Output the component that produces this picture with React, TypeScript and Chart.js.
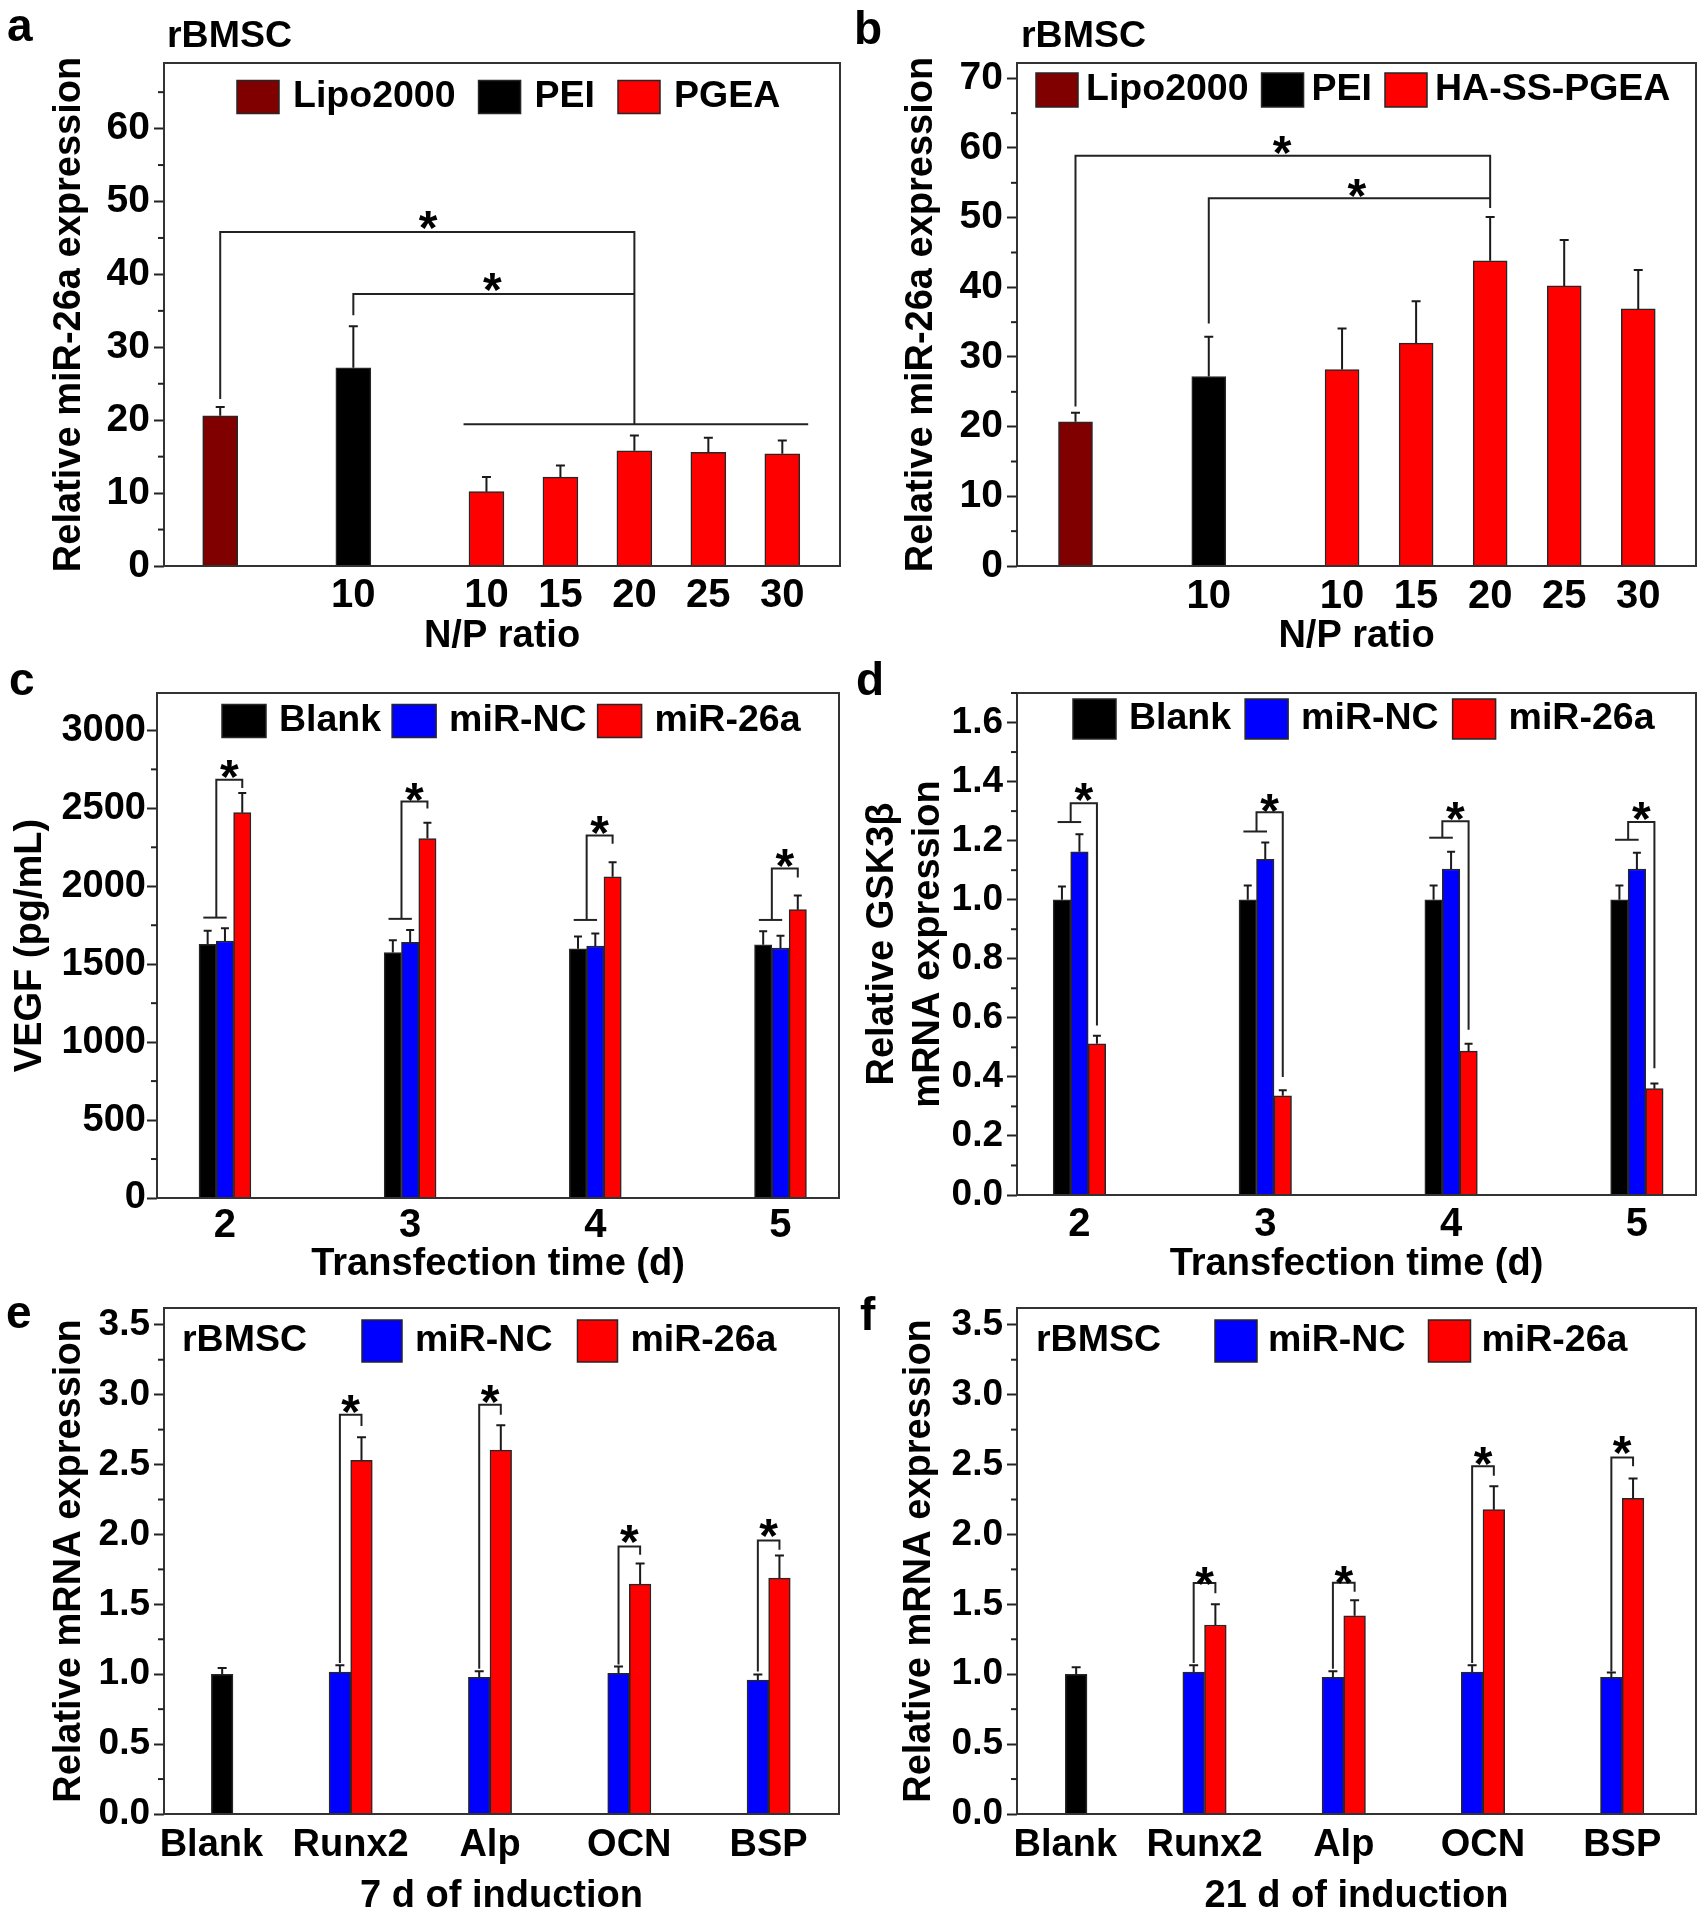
import React, { useEffect, useRef } from 'react';
import { Chart, registerables } from 'chart.js';

Chart.register(...registerables);

const FONT_FAMILY = '"Liberation Sans", Arial, Helvetica, sans-serif';
const FS_XTICK_NUM = 40;
const FS_XTICK_WORD = 38;
const FS_TITLE = 38;
const FS_LEGEND = 37.5;
const FS_STAR = 48;
const MAROON = '#800000';
const RED = '#FF0000';
const BLUE = '#0000FF';
const BLACK = '#000000';

// ---------------- data: panel a (PGEA) ----------------
const npGroupPos = [0, 1.8, 3.6, 4.6, 5.6, 6.6, 7.6];
const npTickLabels = ['10', '10', '15', '20', '25', '30'];
const yTicksA = [0, 10, 20, 30, 40, 50, 60];
const a_lipo = [20.6];
const a_lipoErr = [1.2];
const a_pei = [27.2];
const a_peiErr = [5.7];
const a_pgea = [10.2, 12.2, 15.8, 15.6, 15.4];
const a_pgeaErr = [2.0, 1.6, 2.1, 2.0, 1.8];
const a_brackets = [
  { from: 0, to: 4, yFrom: 22.9, yTop: 45.8, yTo: 19.45 },
  { from: 1, to: 4, yFrom: 34.4, yTop: 37.3, yTo: 37.3 },
];
const a_baseLine = { x1: 3.29, x2: 7.95, y: 19.45 };
const a_stars = [[2.81, 48.0], [3.68, 39.5]];

// ---------------- data: panel b (HA-SS-PGEA) ----------------
const yTicksB = [0, 10, 20, 30, 40, 50, 60, 70];
const b_lipo = [20.7];
const b_lipoErr = [1.3];
const b_pei = [27.2];
const b_peiErr = [5.7];
const b_pgea = [28.2, 32.0, 43.8, 40.2, 36.9];
const b_pgeaErr = [5.9, 6.0, 6.3, 6.6, 5.6];
const b_brackets = [
  { from: 0, to: 4, yFrom: 22.9, yTop: 58.9, yTo: 51.4 },
  { from: 1, to: 4, yFrom: 34.8, yTop: 52.8, yTo: 52.8 },
];
const b_stars = [[2.79, 61.0], [3.8, 54.8]];

// ---------------- data: panel c (VEGF) ----------------
const days = [2, 3, 4, 5];
const yTicksC = [0, 500, 1000, 1500, 2000, 2500, 3000];
const c_blank = [1628, 1575, 1599, 1625];
const c_blankErr = [87, 79, 79, 87];
const c_nc = [1649, 1641, 1617, 1604];
const c_ncErr = [82, 79, 80, 79];
const c_26a = [2472, 2306, 2061, 1850];
const c_26aErr = [127, 101, 93, 90];
// [low line, bracket top, right leg bottom, star]
const c_sig = [
  [1799, 2683, 2631, 2776],
  [1791, 2544, 2499, 2630],
  [1784, 2326, 2273, 2418],
  [1784, 2114, 2056, 2207],
];

// ---------------- data: panel d (GSK3b) ----------------
const yTicksD = [0, 0.2, 0.4, 0.6, 0.8, 1.0, 1.2, 1.4, 1.6];
const d_blank = [1.0, 1.0, 1.0, 1.0];
const d_blankErr = [0.045, 0.048, 0.048, 0.048];
const d_nc = [1.162, 1.137, 1.104, 1.104];
const d_ncErr = [0.06, 0.057, 0.058, 0.055];
const d_26a = [0.512, 0.336, 0.487, 0.36];
const d_26aErr = [0.027, 0.019, 0.025, 0.018];
const d_sig = [
  [1.263, 1.327, 0.574, 1.378],
  [1.231, 1.296, 0.40, 1.342],
  [1.21, 1.266, 0.56, 1.314],
  [1.203, 1.263, 0.429, 1.314],
];

// ---------------- data: panels e / f (osteogenic genes) ----------------
const genes = ['Blank', 'Runx2', 'Alp', 'OCN', 'BSP'];
const yTicksEF = [0, 0.5, 1.0, 1.5, 2.0, 2.5, 3.0, 3.5];
const e_blank = [1.0];
const e_blankErr = [0.044];
const e_nc = [1.015, 0.978, 1.007, 0.958];
const e_ncErr = [0.05, 0.043, 0.049, 0.04];
const e_26a = [2.531, 2.603, 1.645, 1.688];
const e_26aErr = [0.164, 0.178, 0.147, 0.161];
// [left leg bottom, bracket top, right leg bottom, star]
const e_sig = [
  [1.08, 2.856, 2.775, 2.96],
  [1.04, 2.928, 2.856, 3.03],
  [1.07, 1.913, 1.855, 2.03],
  [1.02, 1.956, 1.89, 2.07],
];

const f_blank = [1.0];
const f_blankErr = [0.05];
const f_nc = [1.015, 0.978, 1.015, 0.978];
const f_ncErr = [0.049, 0.043, 0.049, 0.034];
const f_26a = [1.352, 1.418, 2.177, 2.258];
const f_26aErr = [0.148, 0.112, 0.167, 0.142];
const f_sig = [
  [1.08, 1.652, 1.58, 1.73],
  [1.04, 1.654, 1.59, 1.735],
  [1.08, 2.488, 2.42, 2.59],
  [1.02, 2.551, 2.488, 2.666],
];

// ---------------- layout ----------------
type Lay = {
  canvas: { l: number; t: number; w: number; h: number };
  area: { l: number; t: number; r: number; b: number };
  yTitleX: number;
  xTickY: number;
  xTitleY: number;
};

const LAY_A: Lay = { canvas: { l: 0, t: 0, w: 850, h: 670 }, area: { l: 164, t: 63, r: 840, b: 566 }, yTitleX: 70, xTickY: 588, xTitleY: 637 };
const LAY_B: Lay = { canvas: { l: 850, t: 0, w: 857, h: 670 }, area: { l: 1017, t: 63, r: 1696, b: 566 }, yTitleX: 922, xTickY: 589, xTitleY: 637 };
const LAY_C: Lay = { canvas: { l: 0, t: 640, w: 850, h: 650 }, area: { l: 157, t: 693, r: 839, b: 1198 }, yTitleX: 31, xTickY: 1218, xTitleY: 1265 };
const LAY_D: Lay = { canvas: { l: 850, t: 640, w: 857, h: 650 }, area: { l: 1017, t: 693, r: 1696, b: 1195 }, yTitleX: 883, xTickY: 1217, xTitleY: 1265 };
const LAY_E: Lay = { canvas: { l: 0, t: 1260, w: 850, h: 660 }, area: { l: 164, t: 1308, r: 839, b: 1814 }, yTitleX: 70, xTickY: 1838, xTitleY: 1897 };
const LAY_F: Lay = { canvas: { l: 850, t: 1260, w: 857, h: 660 }, area: { l: 1017, t: 1308, r: 1696, b: 1814 }, yTitleX: 920, xTickY: 1838, xTitleY: 1897 };

const fnt = (size: number) => ({ family: FONT_FAMILY, size, weight: 'bold' });

function buildOptions(L: Lay, ySpec: any, xSpec: any) {
  const c = L.canvas;
  const a = L.area;
  const xTickFs = xSpec.tickFs || FS_XTICK_NUM;
  const titleLH = FS_TITLE * 1.2;
  const x: any = {
    type: 'linear',
    min: xSpec.min,
    max: xSpec.max,
    offset: false,
    afterFit: (s: any) => {
      s.height = c.t + c.h - a.b;
    },
    ticks: {
      stepSize: 1,
      includeBounds: false,
      autoSkip: false,
      maxRotation: 0,
      minRotation: 0,
      padding: L.xTickY - a.b - (xTickFs * 1.2) / 2,
      font: fnt(xTickFs),
      color: '#000',
      callback: xSpec.callback,
    },
    grid: { display: false },
    border: { display: false },
    title: {
      display: true,
      text: xSpec.title,
      font: fnt(FS_TITLE),
      color: '#000',
      padding: { top: 0, bottom: c.t + c.h - L.xTitleY - titleLH / 2 },
    },
  };
  if (xSpec.tickValues) {
    x.afterBuildTicks = (s: any) => {
      s.ticks = xSpec.tickValues.map((v: number) => ({ value: v }));
    };
  }
  return {
    responsive: false,
    animation: false,
    devicePixelRatio: 1,
    events: [],
    layout: { padding: { left: 0, top: a.t - c.t, right: c.l + c.w - a.r, bottom: 0 } },
    plugins: { legend: { display: false }, tooltip: { enabled: false }, title: { display: false } },
    scales: {
      x,
      y: {
        type: 'linear',
        min: 0,
        max: ySpec.max,
        stacked: false,
        afterFit: (s: any) => {
          s.width = a.l - c.l;
        },
        afterBuildTicks: (s: any) => {
          s.ticks = ySpec.ticks.map((v: number) => ({ value: v }));
        },
        ticks: {
          padding: ySpec.tickPad,
          font: fnt(ySpec.tickFs),
          color: '#000',
          callback: (v: any) => Number(v).toFixed(ySpec.decimals),
        },
        grid: { display: true, drawOnChartArea: false, drawTicks: true, tickLength: 10, tickWidth: 2, tickColor: '#222' },
        border: { display: false },
        title: {
          display: true,
          text: ySpec.title,
          font: fnt(FS_TITLE),
          color: '#000',
          padding: { top: L.yTitleX - c.l - titleLH / 2, bottom: 0 },
        },
      },
    },
  };
}

function barSet(label: string, color: string, pts: any[], errors: number[], thickness: number, stack?: string) {
  const ds: any = {
    label,
    data: pts,
    backgroundColor: color,
    borderColor: '#262626',
    borderWidth: 1.5,
    barThickness: thickness,
    errors,
  };
  if (stack) ds.stack = stack;
  return ds;
}

// ---------------- drawing helpers ----------------
function drawErrorBars(chart: any, cap: number) {
  const ctx = chart.ctx;
  const ys = chart.scales.y;
  ctx.save();
  ctx.strokeStyle = '#1a1a1a';
  ctx.lineWidth = 2;
  chart.data.datasets.forEach((ds: any, i: number) => {
    const errs = ds.errors;
    if (!errs) return;
    const meta = chart.getDatasetMeta(i);
    meta.data.forEach((bar: any, j: number) => {
      const raw = ds.data[j];
      const e = errs[j];
      if (raw == null || e == null) return;
      const yTop = ys.getPixelForValue(raw.y + e);
      ctx.beginPath();
      ctx.moveTo(bar.x, bar.y);
      ctx.lineTo(bar.x, yTop);
      ctx.moveTo(bar.x - cap / 2, yTop);
      ctx.lineTo(bar.x + cap / 2, yTop);
      ctx.stroke();
    });
  });
  ctx.restore();
}

function drawFrame(chart: any) {
  const ctx = chart.ctx;
  const a = chart.chartArea;
  ctx.save();
  ctx.strokeStyle = '#333';
  ctx.lineWidth = 2;
  ctx.strokeRect(a.left, a.top, a.right - a.left, a.bottom - a.top);
  ctx.restore();
}

function drawMinorTicks(chart: any) {
  const ctx = chart.ctx;
  const ys = chart.scales.y;
  const a = chart.chartArea;
  const t = ys.ticks;
  if (t.length < 2) return;
  const step = t[1].value - t[0].value;
  ctx.save();
  ctx.strokeStyle = '#222';
  ctx.lineWidth = 2;
  for (let v = t[0].value + step / 2; v < ys.max; v += step) {
    const y = ys.getPixelForValue(v);
    ctx.beginPath();
    ctx.moveTo(a.left - 6, y);
    ctx.lineTo(a.left, y);
    ctx.stroke();
  }
  ctx.restore();
}

function drawLegend(chart: any, spec: any) {
  const ctx = chart.ctx;
  const a = chart.chartArea;
  const cy = a.top + spec.dy;
  ctx.save();
  ctx.font = `bold ${FS_LEGEND}px ${FONT_FAMILY}`;
  ctx.textBaseline = 'middle';
  ctx.textAlign = 'left';
  if (spec.lead) {
    ctx.fillStyle = '#000';
    ctx.fillText(spec.lead, a.left + spec.leadDx, cy);
  }
  let x = a.left + spec.dx;
  spec.items.forEach((idx: number) => {
    const ds = chart.data.datasets[idx];
    ctx.fillStyle = ds.backgroundColor;
    ctx.fillRect(x, cy - spec.bh / 2, spec.bw, spec.bh);
    ctx.strokeStyle = '#262626';
    ctx.lineWidth = 1.5;
    ctx.strokeRect(x, cy - spec.bh / 2, spec.bw, spec.bh);
    x += spec.bw + spec.gapBT;
    ctx.fillStyle = '#000';
    ctx.fillText(ds.label, x, cy);
    x += ctx.measureText(ds.label).width + spec.gapItem;
  });
  ctx.restore();
}

function drawStar(ctx: any, x: number, y: number) {
  const s = FS_STAR;
  ctx.save();
  ctx.font = `bold ${s}px ${FONT_FAMILY}`;
  ctx.textAlign = 'center';
  ctx.textBaseline = 'alphabetic';
  ctx.fillStyle = '#000';
  ctx.fillText('*', x, y + 0.58 * s);
  ctx.restore();
}

function polyline(ctx: any, pts: number[][]) {
  ctx.beginPath();
  ctx.moveTo(pts[0][0], pts[0][1]);
  for (let i = 1; i < pts.length; i++) ctx.lineTo(pts[i][0], pts[i][1]);
  ctx.stroke();
}

function drawNpSig(chart: any, brackets: any[], base: any, stars: number[][]) {
  const ctx = chart.ctx;
  const X = (v: number) => chart.scales.x.getPixelForValue(v);
  const Y = (v: number) => chart.scales.y.getPixelForValue(v);
  ctx.save();
  ctx.strokeStyle = '#222';
  ctx.lineWidth = 2;
  brackets.forEach((b) => {
    const x1 = X(npGroupPos[b.from]);
    const x2 = X(npGroupPos[b.to]);
    polyline(ctx, [[x1, Y(b.yFrom)], [x1, Y(b.yTop)], [x2, Y(b.yTop)], [x2, Y(b.yTo)]]);
  });
  if (base) polyline(ctx, [[X(base.x1), Y(base.y)], [X(base.x2), Y(base.y)]]);
  ctx.restore();
  stars.forEach(([sx, sy]) => drawStar(ctx, X(sx), Y(sy)));
}

function drawSig3(chart: any, rows: number[][]) {
  const ctx = chart.ctx;
  const Y = (v: number) => chart.scales.y.getPixelForValue(v);
  const m0 = chart.getDatasetMeta(0);
  const m1 = chart.getDatasetMeta(1);
  const m2 = chart.getDatasetMeta(2);
  ctx.save();
  ctx.strokeStyle = '#222';
  ctx.lineWidth = 2;
  rows.forEach(([low, top, rb, star], g) => {
    const bk = m0.data[g];
    const bl = m1.data[g];
    const rd = m2.data[g];
    const w = bk.width;
    const xv = (bk.x + bl.x) / 2;
    polyline(ctx, [[bk.x - 0.25 * w, Y(low)], [bl.x + 0.1 * w, Y(low)]]);
    polyline(ctx, [[xv, Y(low)], [xv, Y(top)], [rd.x, Y(top)], [rd.x, Y(rb)]]);
    drawStar(ctx, (xv + rd.x) / 2, Y(star));
  });
  ctx.restore();
}

function drawSig2(chart: any, rows: number[][]) {
  const ctx = chart.ctx;
  const Y = (v: number) => chart.scales.y.getPixelForValue(v);
  const m0 = chart.getDatasetMeta(0);
  const m1 = chart.getDatasetMeta(1);
  ctx.save();
  ctx.strokeStyle = '#222';
  ctx.lineWidth = 2;
  rows.forEach(([lb, top, rb, star], g) => {
    const bl = m0.data[g];
    const rd = m1.data[g];
    polyline(ctx, [[bl.x, Y(lb)], [bl.x, Y(top)], [rd.x, Y(top)], [rd.x, Y(rb)]]);
    drawStar(ctx, (bl.x + rd.x) / 2, Y(star));
  });
  ctx.restore();
}

function drawTexts(chart: any, L: Lay, texts: any[]) {
  const ctx = chart.ctx;
  ctx.save();
  ctx.fillStyle = '#000';
  texts.forEach((t) => {
    ctx.font = `bold ${t.size}px ${FONT_FAMILY}`;
    ctx.textAlign = 'left';
    ctx.textBaseline = t.baseline || 'alphabetic';
    ctx.fillText(t.text, t.x - L.canvas.l, t.y - L.canvas.t);
  });
  ctx.restore();
}

function decoPlugin(L: Lay, spec: any) {
  return {
    id: 'deco',
    afterDatasetsDraw(chart: any) {
      drawErrorBars(chart, spec.cap);
    },
    afterDraw(chart: any) {
      drawFrame(chart);
      drawMinorTicks(chart);
      drawLegend(chart, spec.legend);
      spec.sig(chart);
      drawTexts(chart, L, spec.texts);
    },
  };
}

// ---------------- chart configs ----------------
function npConfig(L: Lay, which: 'a' | 'b') {
  const isA = which === 'a';
  const lipo = isA ? a_lipo : b_lipo;
  const lipoErr = isA ? a_lipoErr : b_lipoErr;
  const pei = isA ? a_pei : b_pei;
  const peiErr = isA ? a_peiErr : b_peiErr;
  const pg = isA ? a_pgea : b_pgea;
  const pgErr = isA ? a_pgeaErr : b_pgeaErr;
  const bt = isA ? 35 : 34;
  const datasets = [
    barSet('Lipo2000', MAROON, [{ x: npGroupPos[0], y: lipo[0] }], lipoErr, bt, 's'),
    barSet('PEI', BLACK, [{ x: npGroupPos[1], y: pei[0] }], peiErr, bt, 's'),
    barSet(isA ? 'PGEA' : 'HA-SS-PGEA', RED, pg.map((v, i) => ({ x: npGroupPos[2 + i], y: v })), pgErr, bt, 's'),
  ];
  const options = buildOptions(
    L,
    { max: isA ? 69 : 72.2, ticks: isA ? yTicksA : yTicksB, decimals: 0, tickFs: 39, tickPad: 4, title: 'Relative miR-26a expression' },
    {
      min: isA ? -0.76 : -0.79,
      max: 8.38,
      tickValues: npGroupPos.slice(1),
      callback: (_v: any, i: number) => npTickLabels[i],
      title: 'N/P ratio',
    },
  );
  const legend = isA
    ? { dx: 73, dy: 34, bw: 42, bh: 33, gapBT: 14, gapItem: 23, items: [0, 1, 2] }
    : { dx: 19, dy: 27, bw: 42, bh: 34, gapBT: 8, gapItem: 13, items: [0, 1, 2] };
  const texts = isA
    ? [
        { text: 'a', x: 7, y: 41, size: 46 },
        { text: 'rBMSC', x: 167, y: 37, size: FS_LEGEND, baseline: 'middle' },
      ]
    : [
        { text: 'b', x: 854, y: 44, size: 46 },
        { text: 'rBMSC', x: 1021, y: 37, size: FS_LEGEND, baseline: 'middle' },
      ];
  const plugin = decoPlugin(L, {
    cap: 9,
    legend,
    texts,
    sig: (chart: any) =>
      isA ? drawNpSig(chart, a_brackets, a_baseLine, a_stars) : drawNpSig(chart, b_brackets, null, b_stars),
  });
  return { type: 'bar', data: { datasets }, options, plugins: [plugin] };
}

function timeConfig(L: Lay, which: 'c' | 'd') {
  const isC = which === 'c';
  const bt = isC ? 17.3 : 17.5;
  const bl = isC ? c_blank : d_blank;
  const blE = isC ? c_blankErr : d_blankErr;
  const nc = isC ? c_nc : d_nc;
  const ncE = isC ? c_ncErr : d_ncErr;
  const mi = isC ? c_26a : d_26a;
  const miE = isC ? c_26aErr : d_26aErr;
  const pts = (arr: number[]) => arr.map((v, i) => ({ x: days[i], y: v }));
  const datasets = [
    barSet('Blank', BLACK, pts(bl), blE, bt),
    barSet('miR-NC', BLUE, pts(nc), ncE, bt),
    barSet('miR-26a', RED, pts(mi), miE, bt),
  ];
  const options = buildOptions(
    L,
    isC
      ? { max: 3240, ticks: yTicksC, decimals: 0, tickFs: 38, tickPad: 1, title: 'VEGF (pg/mL)' }
      : { max: 1.7, ticks: yTicksD, decimals: 1, tickFs: 37, tickPad: 4, title: ['Relative GSK3\u03b2', 'mRNA expression'] },
    {
      min: isC ? 1.633 : 1.664,
      max: isC ? 5.316 : 5.318,
      callback: (v: any) => String(v),
      title: 'Transfection time (d)',
    },
  );
  const legend = isC
    ? { dx: 65, dy: 28, bw: 44, bh: 33, gapBT: 13, gapItem: 11, items: [0, 1, 2] }
    : { dx: 56, dy: 26, bw: 43, bh: 40, gapBT: 13, gapItem: 14, items: [0, 1, 2] };
  const texts = isC ? [{ text: 'c', x: 9, y: 695, size: 46 }] : [{ text: 'd', x: 856, y: 695, size: 46 }];
  const plugin = decoPlugin(L, {
    cap: 8,
    legend,
    texts,
    sig: (chart: any) => drawSig3(chart, isC ? c_sig : d_sig),
  });
  return { type: 'bar', data: { datasets }, options, plugins: [plugin] };
}

function geneConfig(L: Lay, which: 'e' | 'f') {
  const isE = which === 'e';
  const bt = isE ? 21.6 : 21.7;
  const bl = isE ? e_blank : f_blank;
  const blE = isE ? e_blankErr : f_blankErr;
  const nc = isE ? e_nc : f_nc;
  const ncE = isE ? e_ncErr : f_ncErr;
  const mi = isE ? e_26a : f_26a;
  const miE = isE ? e_26aErr : f_26aErr;
  const genePts = (arr: number[]) => arr.map((v, i) => ({ x: i + 2, y: v }));
  const datasets = [
    barSet('miR-NC', BLUE, genePts(nc), ncE, bt, 'A'),
    barSet('miR-26a', RED, genePts(mi), miE, bt, 'B'),
    barSet('Blank', BLACK, [{ x: 1, y: bl[0] }], blE, bt, 'B'),
  ];
  const options = buildOptions(
    L,
    { max: 3.62, ticks: yTicksEF, decimals: 1, tickFs: 37, tickPad: 4, title: 'Relative mRNA expression' },
    {
      min: isE ? 0.66 : 0.653,
      max: isE ? 5.505 : 5.53,
      tickFs: FS_XTICK_WORD,
      callback: (v: any) => genes[Math.round(Number(v)) - 1],
      title: isE ? '7 d of induction' : '21 d of induction',
    },
  );
  const legend = isE
    ? { lead: 'rBMSC', leadDx: 18, dx: 198, dy: 33, bw: 40, bh: 42, gapBT: 13, gapItem: 25, items: [0, 1] }
    : { lead: 'rBMSC', leadDx: 19, dx: 198, dy: 33, bw: 42, bh: 42, gapBT: 11, gapItem: 23, items: [0, 1] };
  const texts = isE ? [{ text: 'e', x: 6, y: 1328, size: 46 }] : [{ text: 'f', x: 860, y: 1330, size: 46 }];
  const plugin = decoPlugin(L, {
    cap: 9,
    legend,
    texts,
    sig: (chart: any) => drawSig2(chart, isE ? e_sig : f_sig),
  });
  return { type: 'bar', data: { datasets }, options, plugins: [plugin] };
}

function Panel({ lay, make }: { lay: Lay; make: () => any }) {
  const ref = useRef<HTMLCanvasElement>(null);
  useEffect(() => {
    const chart = new Chart(ref.current as HTMLCanvasElement, make());
    return () => chart.destroy();
  }, []);
  const c = lay.canvas;
  return (
    <canvas
      ref={ref}
      width={c.w}
      height={c.h}
      style={{ position: 'absolute', left: c.l, top: c.t, width: c.w, height: c.h }}
    />
  );
}

export default function App() {
  return (
    <div
      style={{
        position: 'absolute',
        left: 0,
        top: 0,
        width: 1707,
        height: 1920,
        background: '#fff',
        overflow: 'hidden',
      }}
    >
      <Panel lay={LAY_A} make={() => npConfig(LAY_A, 'a')} />
      <Panel lay={LAY_B} make={() => npConfig(LAY_B, 'b')} />
      <Panel lay={LAY_C} make={() => timeConfig(LAY_C, 'c')} />
      <Panel lay={LAY_D} make={() => timeConfig(LAY_D, 'd')} />
      <Panel lay={LAY_E} make={() => geneConfig(LAY_E, 'e')} />
      <Panel lay={LAY_F} make={() => geneConfig(LAY_F, 'f')} />
    </div>
  );
}
